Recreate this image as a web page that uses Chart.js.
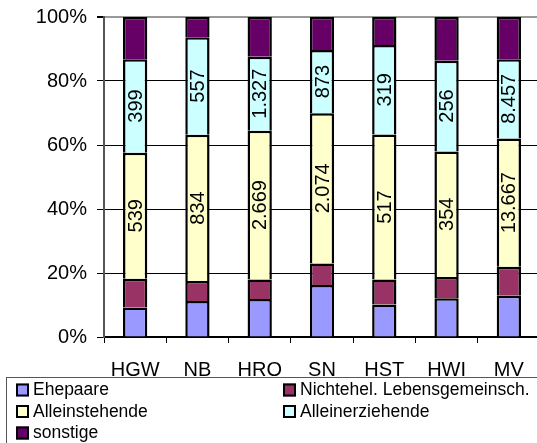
<!DOCTYPE html>
<html>
<head>
<meta charset="utf-8">
<script src="https://cdn.jsdelivr.net/npm/chart.js@4/dist/chart.umd.min.js"></script>
<style>
  html, body { margin: 0; padding: 0; background: #fff; overflow: hidden; }
  #wrap { position: relative; width: 540px; height: 443px; }
</style>
</head>
<body>
<div id="wrap"><canvas id="c" width="540" height="443"></canvas></div>
<script>
// Regions (Kreise) and household counts per type
const categories = ['HGW', 'NB', 'HRO', 'SN', 'HST', 'HWI', 'MV'];
const ehepaare = [126, 206, 683, 718, 116, 109, 4397];
const nichtehel = [123, 113, 350, 298, 89, 60, 3101];
const alleinstehende = [539, 834, 2669, 2074, 517, 354, 13667];
const alleinerziehende = [399, 557, 1327, 873, 319, 256, 8457];
const sonstige = [181, 115, 712, 455, 100, 123, 4499];
const yTickLabels = ['0%', '20%', '40%', '60%', '80%', '100%'];

const seriesNames = ['Ehepaare', 'Nichtehel. Lebensgemeinsch.', 'Alleinstehende', 'Alleinerziehende', 'sonstige'];
const seriesValues = [ehepaare, nichtehel, alleinstehende, alleinerziehende, sonstige];
const seriesColors = ['#9999FF', '#993366', '#FFFFCC', '#CCFFFF', '#660066'];
const labelledSeries = [2, 3];

// column totals for the 100 % stacking
const totals = categories.map((_, i) => seriesValues.reduce((s, arr) => s + arr[i], 0));

function fmt(n) {
  return String(n).replace(/\B(?=(\d{3})+(?!\d))/g, '.');
}

const FONT = '"Liberation Sans", Arial, sans-serif';

const datasets = seriesValues.map((vals, k) => ({
  label: seriesNames[k],
  raw: vals,
  showValues: labelledSeries.includes(k),
  data: vals.map((v, i) => v / totals[i] * 100),
  backgroundColor: seriesColors[k],
  borderColor: '#000',
  borderWidth: 2.5,
  borderSkipped: 'start',
  categoryPercentage: 1,
  barPercentage: 0.39,
  stack: 's'
}));

// rotated value labels centred in the segments
const valueLabels = {
  id: 'valueLabels',
  afterDatasetsDraw(chart) {
    const ctx = chart.ctx;
    ctx.save();
    ctx.font = '20px ' + FONT;
    ctx.fillStyle = '#000';
    ctx.textAlign = 'center';
    ctx.textBaseline = 'middle';
    chart.data.datasets.forEach((ds, di) => {
      if (!ds.showValues) return;
      chart.getDatasetMeta(di).data.forEach((el, i) => {
        const cx = el.x;
        const cy = (el.y + el.base) / 2;
        ctx.save();
        ctx.translate(cx, cy);
        ctx.rotate(-Math.PI / 2);
        ctx.fillText(fmt(ds.raw[i]), 0, 1);
        ctx.restore();
      });
    });
    ctx.restore();
  }
};

// boxed legend below the axis, two columns
const boxLegend = {
  id: 'boxLegend',
  afterDraw(chart) {
    const ctx = chart.ctx;
    ctx.save();
    ctx.strokeStyle = '#555';
    ctx.lineWidth = 1;
    ctx.strokeRect(6.5, 377.5, 600, 100);
    ctx.font = '17.5px ' + FONT;
    ctx.textBaseline = 'middle';
    ctx.textAlign = 'left';
    const cols = [16, 283];
    const rows = [390, 411.5, 433];
    chart.data.datasets.forEach((ds, k) => {
      const x = cols[k % 2];
      const y = rows[Math.floor(k / 2)];
      ctx.fillStyle = ds.backgroundColor;
      ctx.fillRect(x, y - 6.5, 13, 13);
      ctx.strokeStyle = '#000';
      ctx.lineWidth = 2;
      ctx.strokeRect(x + 1, y - 5.5, 11, 11);
      ctx.fillStyle = '#000';
      ctx.fillText(ds.label, x + 17, y + 0.5);
    });
    ctx.restore();
  }
};

new Chart(document.getElementById('c'), {
  type: 'bar',
  data: { labels: categories, datasets },
  options: {
    responsive: false,
    animation: false,
    layout: { padding: { left: 0, top: 17, right: 0, bottom: 56 } },
    plugins: { legend: { display: false }, tooltip: { enabled: false } },
    scales: {
      x: {
        stacked: true,
        offset: true,
        afterFit(scale) { scale.height = 50; scale.paddingLeft = 0; scale.paddingRight = 0; },
        border: { display: true, color: '#000', width: 1.5 },
        grid: {
          offset: true,
          drawOnChartArea: false,
          drawTicks: true,
          tickLength: 6,
          color: '#000',
          lineWidth: 1
        },
        ticks: {
          color: '#000',
          font: { family: FONT, size: 20 },
          padding: 15,
          maxRotation: 0
        }
      },
      y: {
        stacked: true,
        min: 0,
        max: 100,
        afterFit(scale) { scale.width = 104; scale.paddingTop = 0; scale.paddingBottom = 0; },
        border: { display: true, color: '#555', width: 2 },
        grid: {
          color: (c) => (c.tick && c.tick.value === 100 ? '#999' : '#000'),
          lineWidth: (c) => (c.tick && c.tick.value === 100 ? 2 : 1),
          tickColor: '#000',
          tickLength: 7
        },
        ticks: {
          stepSize: 20,
          color: '#000',
          font: { family: FONT, size: 20 },
          padding: 10,
          callback: (v) => yTickLabels[Math.round(v / 20)]
        }
      }
    }
  },
  plugins: [valueLabels, boxLegend]
});
</script>
</body>
</html>
